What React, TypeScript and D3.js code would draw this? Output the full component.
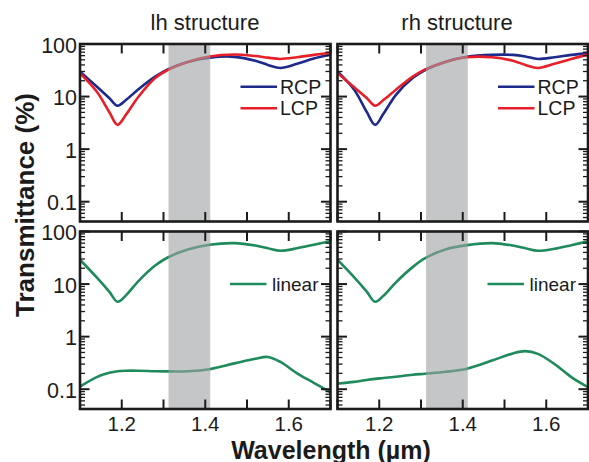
import React from 'react';
import * as d3 from 'd3';

// ---- data ----
const wavelength = [1.10, 1.14, 1.17, 1.19, 1.21, 1.24, 1.28, 1.31, 1.36, 1.41, 1.47, 1.52, 1.55, 1.58, 1.62, 1.66, 1.70];

const lhRCP = [30, 15.5, 9.4, 6.7, 8.6, 13.8, 24, 33, 46, 55, 57, 48, 40, 35, 42, 53, 63];
const lhLCP = [28, 12.5, 5.1, 2.9, 4.5, 9.9, 22.5, 32, 46, 58, 63, 59, 55, 52, 56, 62, 68];
const rhRCP = [30, 13.5, 5.1, 2.9, 4.7, 10.8, 22.5, 32, 46, 57, 62, 62, 58, 52, 56, 62, 67];
const rhLCP = [28, 15, 9.4, 6.7, 8.6, 13.5, 24, 33, 46, 56, 56, 48, 40, 35, 42, 52, 63];

const lhLinearHigh = [29, 13.4, 7.2, 4.6, 6.1, 11.4, 22.5, 32, 46, 56, 60, 54, 48, 43, 48, 56, 65];
const lhLinearLow = [0.112, 0.17, 0.205, 0.22, 0.225, 0.225, 0.22, 0.218, 0.22, 0.24, 0.31, 0.38, 0.41, 0.33, 0.2, 0.132, 0.087];
const rhLinearHigh = [29, 13.4, 7.2, 4.6, 6.0, 10.8, 21, 31, 46, 55, 60, 54, 48, 43, 47, 55, 65];
const rhLinearLow = [0.128, 0.138, 0.15, 0.157, 0.163, 0.173, 0.188, 0.197, 0.214, 0.245, 0.35, 0.48, 0.53, 0.47, 0.3, 0.17, 0.109];

const xDomain = [1.1, 1.7];
const yDomain = [0.042, 100];
const xMajorTicks = [1.1, 1.2, 1.3, 1.4, 1.5, 1.6, 1.7];
const xTickLabels = [1.2, 1.4, 1.6];
const yTickValues = [100, 10, 1, 0.1];
const yTickLabels = ['100', '10', '1', '0.1'];
const shadedBand = [1.312, 1.412];
const columnTitles = ['lh structure', 'rh structure'];

const BLUE = '#1d2a8c';
const RED = '#e61f28';
const GREEN = '#1f8a5b';
const FONT = "'Liberation Sans', Arial, Helvetica, sans-serif";
const INK = '#1b1b1b';

type Series = { values: number[]; color: string };
type Legend = { label: string; color: string };
type Panel = {
  col: number;
  row: number;
  series: Series[];
  legend: Legend[];
  legendX: number;
  legendY: number;
};

const colX = [80, 337.5];
const rowY = [44, 231.5];
const panelW = 250.5;
const panelH = 177.5;

const panels: Panel[] = [
  { col: 0, row: 0, series: [{ values: lhRCP, color: BLUE }, { values: lhLCP, color: RED }],
    legend: [{ label: 'RCP', color: BLUE }, { label: 'LCP', color: RED }], legendX: 160.5, legendY: 42.7 },
  { col: 1, row: 0, series: [{ values: rhRCP, color: BLUE }, { values: rhLCP, color: RED }],
    legend: [{ label: 'RCP', color: BLUE }, { label: 'LCP', color: RED }], legendX: 160.5, legendY: 42.7 },
  { col: 0, row: 1, series: [{ values: lhLinearHigh, color: GREEN }, { values: lhLinearLow, color: GREEN }],
    legend: [{ label: 'linear', color: GREEN }], legendX: 150, legendY: 52.5 },
  { col: 1, row: 1, series: [{ values: rhLinearHigh, color: GREEN }, { values: rhLinearLow, color: GREEN }],
    legend: [{ label: 'linear', color: GREEN }], legendX: 150, legendY: 52.5 },
];

const minorTicks: number[] = [];
for (const dec of [0.01, 0.1, 1, 10]) {
  for (let m = 2; m <= 9; m++) {
    const v = dec * m;
    if (v > yDomain[0] && v < yDomain[1]) minorTicks.push(v);
  }
}

function PanelView({ p }: { p: Panel }) {
  const x0 = colX[p.col];
  const y0 = rowY[p.row];
  const x = d3.scaleLinear().domain(xDomain).range([0, panelW]);
  const y = d3.scaleLog().domain(yDomain).range([panelH, 0]);
  const line = d3
    .line<number>()
    .x((_, i) => x(wavelength[i]))
    .y((d) => y(d))
    .curve(d3.curveCatmullRom.alpha(0.5));
  const clipId = `clip-${p.col}-${p.row}`;
  const majorLen = 9.5;
  const minorLen = 5;
  return (
    <g transform={`translate(${x0},${y0})`}>
      <defs>
        <clipPath id={clipId}>
          <rect x={0} y={0} width={panelW} height={panelH} />
        </clipPath>
      </defs>
      <g clipPath={`url(#${clipId})`}>
        {p.series.map((s, i) => (
          <path key={i} d={line(s.values) || ''} fill="none" stroke={s.color} strokeWidth={2.6} />
        ))}
        <rect
          x={x(shadedBand[0])}
          y={0}
          width={x(shadedBand[1]) - x(shadedBand[0])}
          height={panelH}
          fill="#9da0a4"
          fillOpacity={0.6}
        />
      </g>
      {/* legend */}
      {p.legend.map((l, i) => (
        <g key={l.label} transform={`translate(${p.legendX},${p.legendY + i * 21.6})`}>
          <line x1={0} x2={36.5} y1={0} y2={0} stroke={l.color} strokeWidth={2.6} />
          <text x={p.row === 0 ? 39.5 : 42} y={7} fontSize={p.row === 0 ? 19.5 : 19} fontFamily={FONT} fill={INK}>
            {l.label}
          </text>
        </g>
      ))}
      {/* x ticks */}
      {xMajorTicks.map((t) => (
        <g key={t}>
          <line x1={x(t)} x2={x(t)} y1={0} y2={majorLen} stroke={INK} strokeWidth={2} />
          <line x1={x(t)} x2={x(t)} y1={panelH} y2={panelH - majorLen} stroke={INK} strokeWidth={2} />
        </g>
      ))}
      {/* y ticks */}
      {yTickValues.map((t) => (
        <g key={t}>
          <line x1={0} x2={majorLen} y1={y(t)} y2={y(t)} stroke={INK} strokeWidth={2} />
          <line x1={panelW} x2={panelW - majorLen} y1={y(t)} y2={y(t)} stroke={INK} strokeWidth={2} />
        </g>
      ))}
      {minorTicks.map((t) => (
        <g key={t}>
          <line x1={0} x2={minorLen} y1={y(t)} y2={y(t)} stroke={INK} strokeWidth={1.3} />
          <line x1={panelW} x2={panelW - minorLen} y1={y(t)} y2={y(t)} stroke={INK} strokeWidth={1.3} />
        </g>
      ))}
      <rect x={0} y={0} width={panelW} height={panelH} fill="none" stroke={INK} strokeWidth={2.6} />
      {/* tick labels */}
      {p.col === 0 &&
        yTickValues.map((t, i) => (
          <text key={t} x={-3} y={y(t) + 8.5} textAnchor="end" fontSize={21.5} fontFamily={FONT} fill={INK}>
            {yTickLabels[i]}
          </text>
        ))}
      {p.row === 1 &&
        xTickLabels.map((t) => (
          <text key={t} x={x(t)} y={panelH + 21.5} textAnchor="middle" fontSize={20.5} fontFamily={FONT} fill={INK}>
            {t.toFixed(1)}
          </text>
        ))}
    </g>
  );
}

export default function App() {
  return (
    <svg
      width={589}
      height={462}
      style={{ position: 'absolute', left: 0, top: 0, background: '#fff' }}
    >
      <rect x={0} y={0} width={589} height={462} fill="#fff" />
      <text x={205} y={30} textAnchor="middle" fontSize={22} fontFamily={FONT} fill={INK}>
        {columnTitles[0]}
      </text>
      <text x={457} y={30} textAnchor="middle" fontSize={22} fontFamily={FONT} fill={INK}>
        {columnTitles[1]}
      </text>
      {panels.map((p, i) => (
        <PanelView key={i} p={p} />
      ))}
      <text
        transform="translate(33.5,205) rotate(-90)"
        textAnchor="middle"
        fontSize={26}
        fontWeight="bold"
        fontFamily={FONT}
        fill={INK}
      >
        Transmittance (%)
      </text>
      <text x={331} y={458.5} textAnchor="middle" fontSize={25} fontWeight="bold" fontFamily={FONT} fill={INK}>
        Wavelength (µm)
      </text>
    </svg>
  );
}
